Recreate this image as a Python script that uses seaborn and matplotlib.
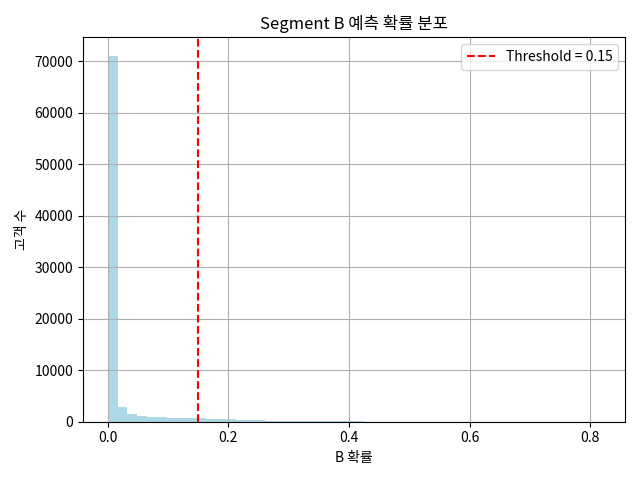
import numpy as np
import pandas as pd
import matplotlib
matplotlib.use('Agg')
import matplotlib.pyplot as plt
from matplotlib.ticker import MultipleLocator
import seaborn as sns

plt.rcParams['font.family'] = ['Noto Sans CJK KR', 'DejaVu Sans']
plt.rcParams['axes.unicode_minus'] = False

# histogram of predicted B probabilities, 50 bins from 0 to max prob
prob_max = 0.817
n_bins = 50
bin_counts = [71100, 2950, 1550, 1150, 1000, 950, 800, 650, 640, 630,
              620, 600, 560, 420, 400, 380, 230, 220, 210, 200,
              200, 190, 180, 60, 150, 140, 20, 15, 12, 10,
              9, 8, 7, 6, 6, 5, 5, 4, 4, 3,
              3, 3, 2, 2, 2, 2, 1, 1, 1, 2]
threshold = 0.15

edges = np.linspace(0, prob_max, n_bins + 1)
df = pd.DataFrame({'prob': (edges[:-1] + edges[1:]) / 2, 'n': bin_counts})

fig, ax = plt.subplots(figsize=(6.4, 4.8), dpi=100)
sns.histplot(data=df, x='prob', weights='n', bins=n_bins, binrange=(0, prob_max),
             color='lightblue', alpha=1, linewidth=0, ax=ax)
ax.axvline(threshold, color='red', linestyle='--', label=f'Threshold = {threshold}')
ax.xaxis.set_major_locator(MultipleLocator(0.2))
ax.set_title('Segment B 예측 확률 분포')
ax.set_xlabel('B 확률')
ax.set_ylabel('고객 수')
ax.legend()
ax.grid(True)
fig.tight_layout()
fig.savefig('out.png', dpi=100)
